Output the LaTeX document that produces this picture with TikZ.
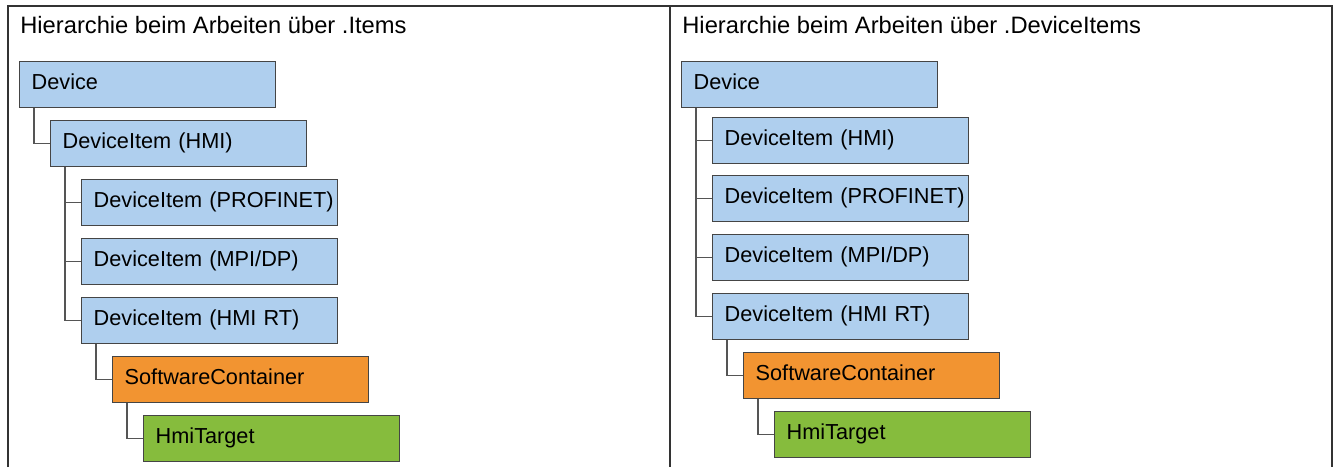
\documentclass[tikz,border=0pt]{standalone}
\usepackage{fontspec}
\setmainfont{Liberation Sans}
\usetikzlibrary{calc}
\definecolor{itemBlue}{HTML}{AFCFEE}
\definecolor{contOrange}{HTML}{F29431}
\definecolor{targetGreen}{HTML}{86BC3D}
\definecolor{boxLine}{HTML}{454545}
\definecolor{treeLine}{HTML}{555555}
\definecolor{frameLine}{HTML}{333333}

\begin{document}
\begin{tikzpicture}[x=0.02cm, y=-0.02cm,
		item/.style={draw=boxLine, line width=0.8pt, fill=itemBlue, anchor=north west,
			minimum height=0.92cm, text width=4.64cm, inner xsep=0.24cm, inner ysep=0pt,
			align=left, text height=0.72em, text depth=0.22em,
			font=\fontsize{12.35}{14}\selectfont},
		cont/.style={item, fill=contOrange},
		target/.style={item, fill=targetGreen},
		heading/.style={anchor=base west, inner sep=0pt, font=\fontsize{13.5}{16}\selectfont},
		elbow/.style={draw=treeLine, line width=0.8pt, to path={|- (\tikztotarget)}}]
	\useasboundingbox (0,0) rectangle (1338,467);
	
	% frame of the two columns
	\draw[frameLine, line width=1.1pt] (8,467) |- (1332,6) -- (1332,467);
	\draw[frameLine, line width=1.1pt] (670,6) -- (670,467);
	
	% left: .Items
	\node[heading] (hl) at (20, 33) {Hierarchie beim Arbeiten über .Items};
	\node[item] (d0) at (19, 61) {Device};
	\node[item] (d1) at (50, 120) {DeviceItem (HMI)};
	\node[item] (d2) at (81, 179) {DeviceItem~(PROFINET)};
	\node[item] (d3) at (81, 238) {DeviceItem (MPI/DP)};
	\node[item] (d4) at (81, 297) {DeviceItem (HMI RT)};
	\node[cont] (sc) at (112, 356) {SoftwareContainer};
	\node[target] (ht) at (143, 415) {HmiTarget};
	
	\path ($(d0.south west)+(15,0)$) edge[elbow] (d1.west);
	\path ($(d1.south west)+(15,0)$) edge[elbow] (d2.west)
		($(d1.south west)+(15,0)$) edge[elbow] (d3.west)
		($(d1.south west)+(15,0)$) edge[elbow] (d4.west);
	\path ($(d4.south west)+(15,0)$) edge[elbow] (sc.west);
	\path ($(sc.south west)+(15,0)$) edge[elbow] (ht.west);
	
	% right: .DeviceItems
	\node[heading] (hr) at (682, 33) {Hierarchie beim Arbeiten über .DeviceItems};
	\node[item] (e0) at (681, 61) {Device};
	\node[item] (e1) at (712, 117) {DeviceItem (HMI)};
	\node[item] (e2) at (712, 175) {DeviceItem~(PROFINET)};
	\node[item] (e3) at (712, 234) {DeviceItem (MPI/DP)};
	\node[item] (e4) at (712, 293) {DeviceItem (HMI RT)};
	\node[cont] (sc2) at (743, 352) {SoftwareContainer};
	\node[target] (ht2) at (774, 411) {HmiTarget};
	
	\path ($(e0.south west)+(15,0)$) edge[elbow] (e1.west)
		($(e0.south west)+(15,0)$) edge[elbow] (e2.west)
		($(e0.south west)+(15,0)$) edge[elbow] (e3.west)
		($(e0.south west)+(15,0)$) edge[elbow] (e4.west);
	\path ($(e4.south west)+(15,0)$) edge[elbow] (sc2.west);
	\path ($(sc2.south west)+(15,0)$) edge[elbow] (ht2.west);
\end{tikzpicture}
\end{document}
